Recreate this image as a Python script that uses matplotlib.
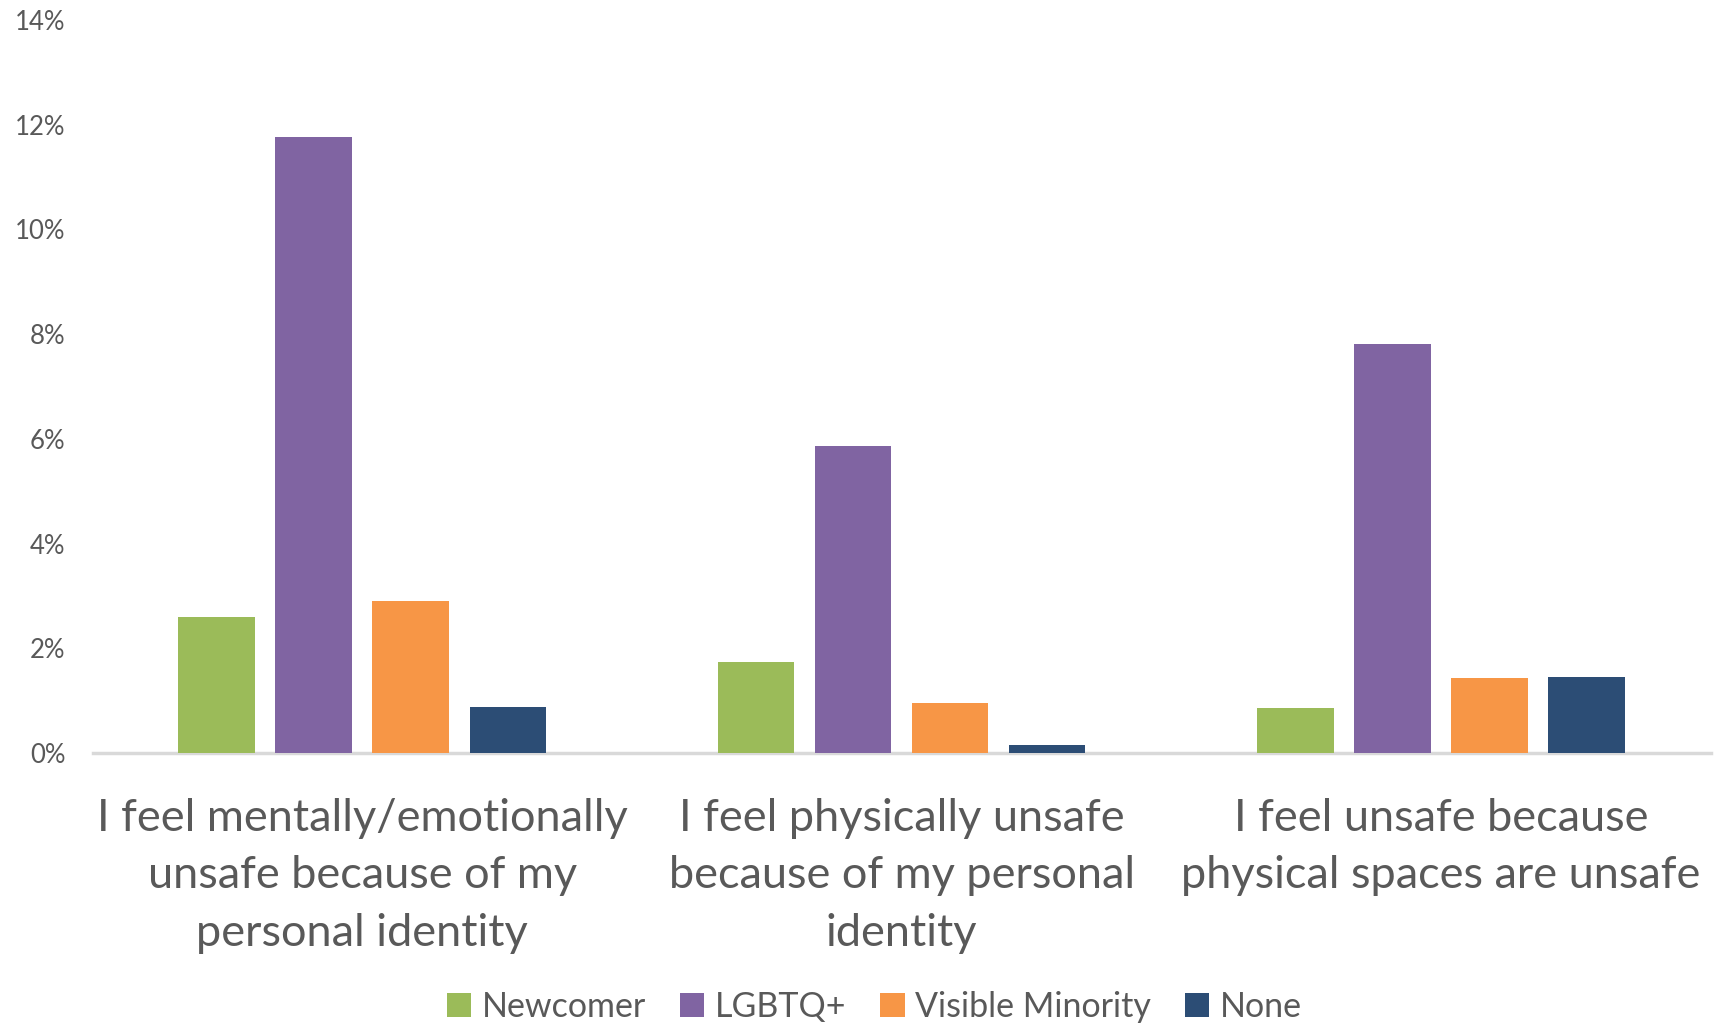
import matplotlib
matplotlib.use("Agg")
import matplotlib.pyplot as plt
import numpy as np

plt.rcParams['font.family'] = ['Lato', 'DejaVu Sans']

# survey categories and series values (percent)
categories = ["I feel mentally/emotionally\nunsafe because of my\npersonal identity",
              "I feel physically unsafe\nbecause of my personal\nidentity",
              "I feel unsafe because\nphysical spaces are unsafe"]
series_names = ["Newcomer", "LGBTQ+", "Visible Minority", "None"]
newcomer = [2.59, 1.73, 0.86]
lgbtq = [11.77, 5.86, 7.82]
visible_minority = [2.90, 0.96, 1.44]
none = [0.88, 0.15, 1.46]
colors = ["#9bbb59", "#8064a2", "#f79646", "#2c4d75"]
yticks = [0, 2, 4, 6, 8, 10, 12, 14]

txt = "#595959"

fig = plt.figure(figsize=(17.14, 10.26), dpi=100)
ax = fig.add_axes([0.054, 0.266, 0.944, 0.7145])

x = np.arange(len(categories))
pitch = 0.18
width = 0.142
all_series = [newcomer, lgbtq, visible_minority, none]
for i, (vals, name, c) in enumerate(zip(all_series, series_names, colors)):
    ax.bar(x + (i - 1.5) * pitch, vals, width, color=c, label=name, zorder=3)

ax.set_xlim(-0.5, 2.5)
ax.set_ylim(0, 14)
ax.set_yticks(yticks)
ax.set_yticklabels([f"{t}%" for t in yticks], fontsize=18.5, color=txt)
ax.set_xticks(x)
ax.set_xticklabels(categories, fontsize=32.5, color=txt, linespacing=1.5)
ax.tick_params(axis='both', length=0)
ax.tick_params(axis='x', pad=32)
ax.tick_params(axis='y', pad=19.5)

for s in ['top', 'right', 'left']:
    ax.spines[s].set_visible(False)
ax.spines['bottom'].set_color("#d9d9d9")
ax.spines['bottom'].set_linewidth(2.5)

leg = fig.legend(loc='center', bbox_to_anchor=(0.51, 1 - 1007 / 1026), ncol=4,
                 frameon=False, fontsize=24.5, handlelength=0.72, handleheight=0.72,
                 handletextpad=0.3, columnspacing=1.0)
for t in leg.get_texts():
    t.set_color(txt)

fig.savefig("out.png", dpi=100)
